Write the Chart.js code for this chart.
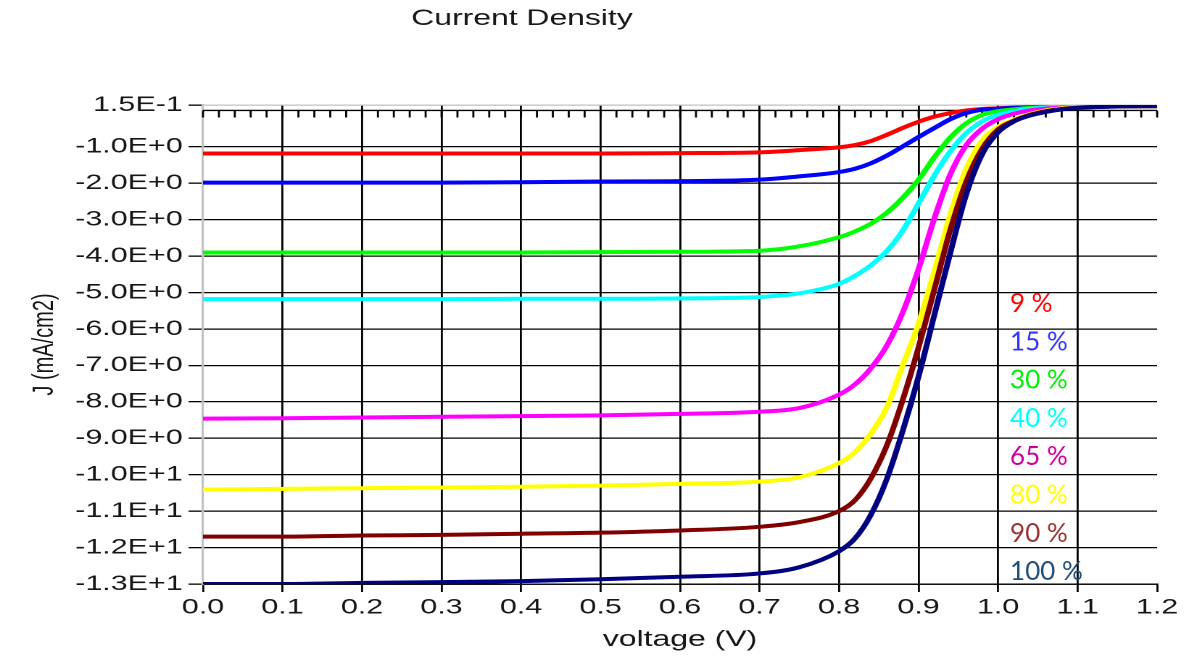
<!DOCTYPE html>
<html>
<head>
<meta charset="utf-8">
<script src="https://cdn.jsdelivr.net/npm/chart.js@4.4.0/dist/chart.umd.min.js"></script>
<style>
  html, body { margin: 0; padding: 0; background: #fff; overflow: hidden; }
  #wrap { width: 1192px; height: 664px; position: relative; overflow: hidden; }
  #chart { position: absolute; left: 0; top: 0; transform: scaleX(1.45); transform-origin: 0 0; }
</style>
</head>
<body>
<div id="wrap"><canvas id="chart" width="822" height="664"></canvas></div>
<script>
// the source picture is widened sideways, so the canvas is drawn narrow and stretched
const stretch = 1.45

const voltage = [0, 0.1, 0.2, 0.3, 0.4, 0.5, 0.6, 0.7, 0.75, 0.8, 0.82, 0.84, 0.86, 0.88, 0.9, 0.92, 0.94, 0.96, 0.98, 1.0, 1.02, 1.04, 1.06, 1.08, 1.1, 1.15, 1.2];

const j9 = [-1.18, -1.18, -1.18, -1.18, -1.18, -1.18, -1.17, -1.15, -1.09, -1.01, -0.95, -0.84, -0.67, -0.48, -0.31, -0.17, -0.07, 0.0, 0.04, 0.06, 0.08, 0.09, 0.10, 0.10, 0.11, 0.11, 0.12];
const j15 = [-1.98, -1.98, -1.98, -1.98, -1.97, -1.95, -1.94, -1.90, -1.81, -1.69, -1.60, -1.45, -1.24, -0.99, -0.73, -0.48, -0.24, -0.07, 0.02, 0.05, 0.07, 0.08, 0.09, 0.10, 0.11, 0.11, 0.12];
const j30 = [-3.90, -3.90, -3.90, -3.90, -3.90, -3.89, -3.88, -3.85, -3.73, -3.48, -3.32, -3.11, -2.81, -2.40, -1.90, -1.28, -0.74, -0.35, -0.12, -0.02, 0.03, 0.07, 0.09, 0.10, 0.11, 0.12, 0.12];
const j40 = [-5.18, -5.18, -5.18, -5.18, -5.17, -5.17, -5.16, -5.12, -5.02, -4.76, -4.54, -4.25, -3.86, -3.30, -2.55, -1.78, -1.12, -0.62, -0.30, -0.12, -0.02, 0.04, 0.08, 0.10, 0.11, 0.12, 0.12];
const j65 = [-8.46, -8.45, -8.43, -8.41, -8.39, -8.37, -8.33, -8.27, -8.17, -7.80, -7.52, -7.08, -6.46, -5.55, -4.35, -2.95, -1.75, -0.95, -0.50, -0.24, -0.09, 0.0, 0.05, 0.08, 0.10, 0.12, 0.12];
const j80 = [-10.41, -10.39, -10.37, -10.35, -10.33, -10.30, -10.25, -10.19, -10.07, -9.68, -9.38, -8.87, -8.15, -7.00, -5.85, -4.40, -2.85, -1.60, -0.82, -0.45, -0.25, -0.10, 0.0, 0.06, 0.10, 0.12, 0.12];
const j90 = [-11.70, -11.70, -11.67, -11.65, -11.62, -11.59, -11.53, -11.43, -11.30, -11.00, -10.70, -10.10, -9.20, -7.95, -6.50, -4.90, -3.27, -1.95, -1.05, -0.52, -0.28, -0.12, -0.02, 0.04, 0.08, 0.11, 0.12];
const j100 = [-13.0, -13.0, -12.97, -12.95, -12.92, -12.87, -12.80, -12.71, -12.54, -12.10, -11.75, -11.10, -10.12, -8.80, -7.30, -5.60, -3.90, -2.30, -1.20, -0.60, -0.30, -0.14, -0.04, 0.03, 0.07, 0.11, 0.12];

const seriesLabels = ['9 %', '15 %', '30 %', '40 %', '65 %', '80 %', '90 %', '100 %'];
const seriesValues = [j9, j15, j30, j40, j65, j80, j90, j100];
const lineColors = ['#FF0000', '#0000FF', '#00FF00', '#00FFFF', '#FF00FF', '#FFFF00', '#800000', '#000080'];
const labelColors = ['#FF0000', '#3333FF', '#00EE00', '#00FFFF', '#CC0099', '#FFFF00', '#993333', '#1F4E79'];

const yTicks = [0.15, -1, -2, -3, -4, -5, -6, -7, -8, -9, -10, -11, -12, -13];

const sansFont = '"Liberation Sans", Arial, sans-serif';
const textColor = '#161616';

const extras = {
  id: 'extras',
  beforeDatasetsDraw(chart) {
    // the J = 0 line with its small ticks
    const { ctx, chartArea: { left, right }, scales: { x, y } } = chart;
    const y0 = y.getPixelForValue(0);
    ctx.save();
    ctx.strokeStyle = '#000';
    ctx.lineWidth = 1.4;
    ctx.beginPath();
    ctx.moveTo(left, y0);
    ctx.lineTo(right, y0);
    for (let k = 0; k <= 60; k++) {
      const px = x.getPixelForValue(k * 0.02);
      ctx.moveTo(px, y0);
      ctx.lineTo(px, y0 + 7);
    }
    ctx.stroke();
    ctx.restore();
  },
  afterDraw(chart) {
    const { ctx, chartArea: { top } } = chart;
    ctx.save();
    ctx.fillStyle = textColor;
    ctx.font = '22px ' + sansFont;
    ctx.textAlign = 'center';
    ctx.textBaseline = 'alphabetic';
    ctx.fillText('Current Density', 522 / stretch, 25);

    // percentage labels, not widened like the rest
    ctx.textAlign = 'left';
    ctx.font = '26px Lato, "Open Sans", sans-serif';
    seriesLabels.forEach((lab, i) => {
      ctx.save();
      ctx.translate(1010 / stretch, top + 207 + i * 38.3);
      ctx.scale(1 / stretch, 1);
      ctx.fillStyle = labelColors[i];
      ctx.fillText(lab, 0, 0);
      ctx.restore();
    });
    ctx.restore();
  }
};

const datasets = seriesValues.map((vals, i) => ({
  label: seriesLabels[i],
  data: voltage.map((v, k) => ({ x: v, y: vals[k] })),
  borderColor: lineColors[i],
  backgroundColor: lineColors[i],
  borderWidth: 4,
  pointRadius: 0,
  cubicInterpolationMode: 'monotone',
  order: seriesValues.length - i,
}));

new Chart(document.getElementById('chart'), {
  type: 'line',
  data: { datasets },
  options: {
    responsive: false,
    animation: false,
    devicePixelRatio: 2,
    layout: { padding: { left: 0, right: 24, top: 105, bottom: 0 } },
    plugins: {
      legend: { display: false },
      tooltip: { enabled: false },
    },
    scales: {
      x: {
        type: 'linear',
        min: 0,
        max: 1.2,
        afterFit: (scale) => { scale.height = 80; },
        border: { display: true, color: '#000', width: 1.4 },
        grid: {
          color: (c) => {
            const v = c.tick ? c.tick.value : 0;
            if (Math.abs(v) < 1e-6 || Math.abs(v - 1.2) < 1e-6) return 'rgba(0,0,0,0)';
            return '#000';
          },
          lineWidth: 1.4,
          tickColor: '#000',
          tickLength: 8,
        },
        ticks: {
          stepSize: 0.1,
          autoSkip: false,
          maxRotation: 0,
          padding: 3,
          color: textColor,
          font: { family: sansFont, size: 21 },
          callback: (v) => Number(v).toFixed(1),
        },
        title: {
          display: true,
          text: 'voltage (V)',
          color: textColor,
          font: { family: sansFont, size: 22 },
          padding: { top: 0, bottom: 11 },
        },
      },
      y: {
        type: 'linear',
        min: -13,
        max: 0.15,
        afterFit: (scale) => { scale.width = 140; },
        afterBuildTicks: (scale) => { scale.ticks = yTicks.map(v => ({ value: v })); },
        border: { display: true, color: '#c0c0c0', width: 1.6 },
        grid: {
          color: (c) => (c.tick && c.tick.value === 0.15) ? '#c0c0c0' : '#000',
          lineWidth: 1.3,
          tickColor: '#000',
          tickLength: 10,
        },
        ticks: {
          autoSkip: false,
          padding: 4,
          color: textColor,
          font: { family: sansFont, size: 21 },
          callback: (v) => Number(v).toExponential(1).toUpperCase(),
        },
        title: {
          display: true,
          text: 'J (mA/cm2)',
          color: textColor,
          font: { family: sansFont, size: 20 },
          padding: { top: 19, bottom: 0 },
        },
      },
    },
  },
  plugins: [extras],
});
</script>
</body>
</html>
